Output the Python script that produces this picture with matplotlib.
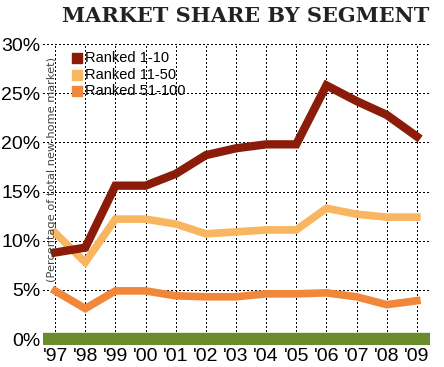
import matplotlib.pyplot as plt
from matplotlib import font_manager
import numpy as np

years = ["'97", "'98", "'99", "'00", "'01", "'02", "'03", "'04", "'05", "'06", "'07", "'08", "'09"]
ranked_1_10 = [8.8, 9.3, 15.6, 15.6, 16.8, 18.7, 19.4, 19.8, 19.8, 25.8, 24.2, 22.8, 20.6]
ranked_11_50 = [10.8, 7.8, 12.2, 12.2, 11.7, 10.7, 10.9, 11.1, 11.1, 13.3, 12.7, 12.4, 12.4]
ranked_51_100 = [4.9, 3.1, 4.9, 4.9, 4.4, 4.3, 4.3, 4.6, 4.6, 4.7, 4.3, 3.5, 3.9]
yticks = [0, 5, 10, 15, 20, 25, 30]
ytick_labels = ["0%", "5%", "10%", "15%", "20%", "25%", "30%"]

names = set(f.name for f in font_manager.fontManager.ttflist)
narrow = "Liberation Sans Narrow" if "Liberation Sans Narrow" in names else "Liberation Sans"

c_top = "#8c1c0a"
c_mid = "#f8b661"
c_low = "#f0873a"
c_green = "#6a8c2c"

fig = plt.figure(figsize=(4.44, 3.67), dpi=100)
ax = fig.add_axes([0.097, 0.060, 0.871, 0.820])
x = np.arange(len(years))

ax.set_xlim(-0.4, 12.43)
ax.set_ylim(-0.6, 30)

# dotted grid, crisp black dots
dots = dict(color="black", lw=1.0, ls=(0, (1, 1.5)), antialiased=False, zorder=1)
for yv in yticks[1:]:
    ax.plot([-0.4, 12.43], [yv, yv], **dots)
for xv in x:
    ax.plot([xv, xv], [0, 30], **dots)

ax.axhspan(-0.6, 0.6, color=c_green, zorder=2)

ax.plot(x, ranked_51_100, color=c_low, lw=5.5, solid_joinstyle="miter", zorder=3)
ax.plot(x, ranked_11_50, color=c_mid, lw=5.5, solid_joinstyle="miter", zorder=4)
ax.plot(x, ranked_1_10, color=c_top, lw=6, solid_joinstyle="miter", zorder=5)

for s in ax.spines.values():
    s.set_visible(False)
ax.set_xticks(x)
ax.set_xticklabels(years, fontsize=14, family=narrow)
ax.set_yticks(yticks)
ax.set_yticklabels(ytick_labels, fontsize=14, family=narrow)
ax.tick_params(length=0, pad=2)
ax.tick_params(axis="x", pad=2)

ax.text(-0.1, 17.2, "(Percentage of total new-home market)", rotation=90,
        fontsize=8.2, color="#444444", ha="center", va="center", zorder=6,
        bbox=dict(facecolor="white", edgecolor="none", pad=0.3, alpha=0.0))

# legend
labels = ["Ranked 1-10", "Ranked 11-50", "Ranked 51-100"]
colors = [c_top, c_mid, c_low]
for i, (lab, col) in enumerate(zip(labels, colors)):
    yy = 28.6 - i * 1.7
    ax.scatter([0.72], [yy], marker="s", s=55, color=col, zorder=6)
    ax.text(1.0, yy, lab, fontsize=10.5, va="center", ha="left", family=narrow, zorder=6)

fig.text(0.967, 0.985, "MARKET SHARE BY SEGMENT", ha="right", va="top",
         fontsize=15, fontweight="heavy", family="DejaVu Serif", color="#222222")

fig.savefig("out.png", dpi=100)
